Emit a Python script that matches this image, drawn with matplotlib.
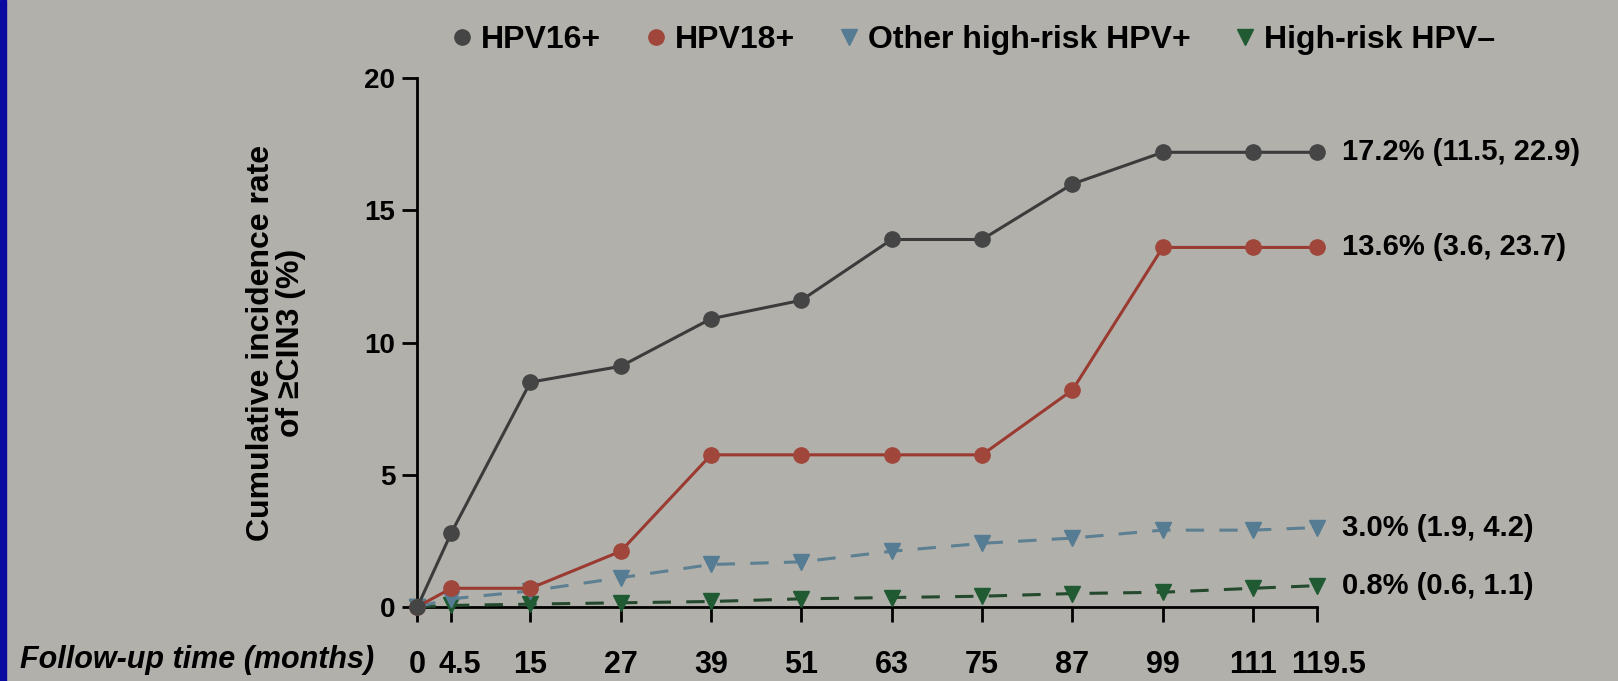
import matplotlib.pyplot as plt
from matplotlib.lines import Line2D
from matplotlib.patches import Rectangle
from matplotlib.transforms import ScaledTranslation

# follow-up months and cumulative incidence (%) of >=CIN3 per HPV group
months = [0, 4.5, 15, 27, 39, 51, 63, 75, 87, 99, 111, 119.5]
hpv16 = [0, 2.8, 8.5, 9.1, 10.9, 11.6, 13.9, 13.9, 16.0, 17.2, 17.2, 17.2]
hpv18 = [0, 0.7, 0.7, 2.1, 5.75, 5.75, 5.75, 5.75, 8.2, 13.6, 13.6, 13.6]
other_hr = [0, 0.3, 0.6, 1.1, 1.6, 1.7, 2.1, 2.4, 2.6, 2.9, 2.9, 3.0]
hr_neg = [0, 0.05, 0.1, 0.15, 0.2, 0.3, 0.35, 0.4, 0.5, 0.55, 0.7, 0.8]

series_names = ["HPV16+", "HPV18+", "Other high-risk HPV+", "High-risk HPV\u2013"]
end_labels = ["17.2% (11.5, 22.9)", "13.6% (3.6, 23.7)",
              "3.0% (1.9, 4.2)", "0.8% (0.6, 1.1)"]
x_ticks = months
x_ticklabels = ["0", "4.5", "15", "27", "39", "51", "63", "75", "87", "99", "111", "119.5"]
y_ticks = [0, 5, 10, 15, 20]

plt.rcParams["font.family"] = ["Liberation Sans", "DejaVu Sans"]
plt.rcParams["font.weight"] = "bold"

BG = "#b1b0ab"
styles = [
    dict(color="#3b3b3b", marker="o", ls="-", mfc="#454545"),
    dict(color="#9a3a30", marker="o", ls="-", mfc="#a0463a"),
    dict(color="#5d7f92", marker="v", ls=(0, (6, 5)), mfc="#557c93"),
    dict(color="#24492d", marker="v", ls=(0, (6, 5)), mfc="#1f5a33"),
]

fig = plt.figure(figsize=(16.18, 6.81), dpi=100, facecolor=BG)
ax = fig.add_axes([0.258, 0.109, 0.556, 0.776])
ax.set_facecolor(BG)

# blue slide edge on the left
fig.patches.append(Rectangle((0, 0), 6 / 1618, 1, transform=fig.transFigure,
                             color="#0a0aa0", zorder=5))

all_series = [hpv16, hpv18, other_hr, hr_neg]
order = [3, 2, 1, 0]
for i in order:
    st = styles[i]
    ax.plot(months, all_series[i], color=st["color"], ls=st["ls"], lw=2.2,
            marker=st["marker"], ms=11 if st["marker"] == "o" else 12,
            mfc=st["mfc"], mec=st["mfc"], clip_on=False, zorder=3 + (3 - i))
    ax.annotate(end_labels[i], (months[-1], all_series[i][-1]),
                xytext=(18, 0), textcoords="offset points",
                va="center", ha="left", fontsize=21, fontweight="bold")

ax.set_xlim(0, 119.5)
ax.set_ylim(0, 20)
ax.set_xticks(x_ticks)
ax.set_xticklabels(x_ticklabels)
ax.set_yticks(y_ticks)
ax.tick_params(axis="x", length=11, width=2, pad=20, labelsize=22)
ax.tick_params(axis="y", length=11, width=2, pad=5, labelsize=20)
for side in ["top", "right"]:
    ax.spines[side].set_visible(False)
for side in ["left", "bottom"]:
    ax.spines[side].set_linewidth(2)

# nudge the crowded labels at both ends apart
for lbl, dx in [(ax.get_xticklabels()[1], 8), (ax.get_xticklabels()[-1], 12)]:
    lbl.set_transform(lbl.get_transform()
                      + ScaledTranslation(dx / 100, 0, fig.dpi_scale_trans))

ax.set_ylabel("Cumulative incidence rate\nof \u2265CIN3 (%)", fontsize=23,
              fontweight="bold", labelpad=42, linespacing=1.0)
fig.text(0.231, 0.031, "Follow-up time (months)", ha="right", va="center",
         fontsize=22, fontweight="bold", style="italic")

handles = [Line2D([], [], ls="none", marker=st["marker"], ms=11,
                  mfc=st["mfc"], mec=st["mfc"]) for st in styles]
fig.legend(handles, series_names, loc="upper center", ncol=4,
           bbox_to_anchor=(0.601, 1.005), frameon=False, fontsize=23,
           handletextpad=0.2, columnspacing=1.3, handlelength=0.8)

fig.savefig("out.png", dpi=100, facecolor=BG)
